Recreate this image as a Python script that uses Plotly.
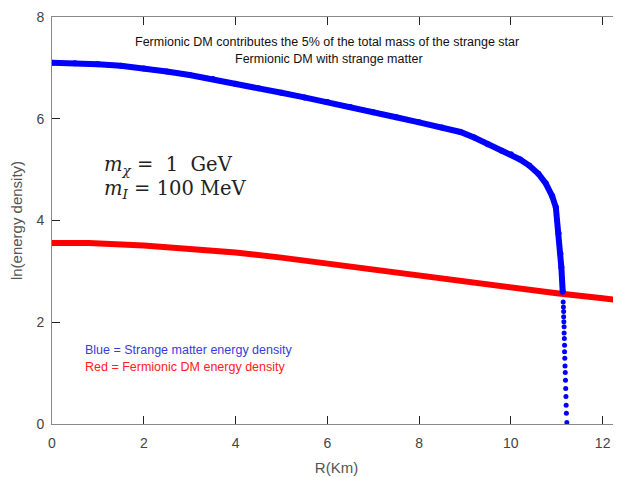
import plotly.graph_objects as go

# Strange matter (blue) - dense part
r_blue = [0.0, 0.5, 1.0, 1.5, 2.0, 2.5, 3.0, 3.5, 4.0, 4.5, 5.0, 5.5, 6.0, 6.5, 7.0, 7.5, 8.0,
          8.5, 8.9, 9.2, 9.5, 9.8, 10.0, 10.2, 10.4, 10.6, 10.76, 10.9, 10.98, 11.04, 11.08, 11.1, 11.13]
e_blue = [7.10, 7.09, 7.07, 7.04, 6.99, 6.93, 6.86, 6.78, 6.69, 6.60, 6.51, 6.42, 6.33, 6.23, 6.13, 6.03, 5.93,
          5.83, 5.74, 5.63, 5.50, 5.37, 5.30, 5.20, 5.08, 4.92, 4.73, 4.48, 4.26, 3.75, 3.35, 3.08, 2.60]
# Strange matter (blue) - sparse tail dots
r_tail = [11.14, 11.145, 11.15, 11.15, 11.155, 11.16, 11.16, 11.165, 11.17, 11.17, 11.175, 11.18,
          11.185, 11.19, 11.195, 11.2, 11.205, 11.21, 11.22]
e_tail = [2.40, 2.30, 2.21, 2.11, 2.01, 1.91, 1.79, 1.68, 1.55, 1.42, 1.29, 1.14,
          1.01, 0.86, 0.70, 0.54, 0.37, 0.21, 0.03]
# Fermionic DM (red)
r_red = [0.0, 0.8, 2.0, 3.0, 4.0, 5.0, 6.0, 7.0, 8.0, 9.0, 10.0, 11.0, 12.0, 12.4]
e_red = [3.56, 3.56, 3.51, 3.45, 3.37, 3.27, 3.15, 3.04, 2.92, 2.81, 2.69, 2.57, 2.47, 2.43]

x_ticks = [0, 2, 4, 6, 8, 10, 12]
y_ticks = [0, 2, 4, 6, 8]

fig = go.Figure()
fig.add_trace(go.Scatter(x=r_red, y=e_red, mode="lines",
                         line=dict(color="#ff0000", width=6), showlegend=False))
fig.add_trace(go.Scatter(x=r_blue, y=e_blue, mode="lines+markers",
                         line=dict(color="#0000ff", width=6),
                         marker=dict(color="#0000ff", size=6), showlegend=False))
fig.add_trace(go.Scatter(x=r_tail, y=e_tail, mode="markers",
                         marker=dict(color="#0000ff", size=5), showlegend=False))

axis_common = dict(showline=True, linecolor="#888888", linewidth=1, mirror="ticks",
                   ticks="inside", ticklen=8, tickcolor="#222222", tickwidth=1,
                   showgrid=False, zeroline=False, automargin=False,
                   tickfont=dict(family="Liberation Sans, Arial", size=14, color="#444444"))

# page body has an 8px margin, so the figure is 8px smaller and margins are offset
fig.update_layout(
    width=613, height=469,
    margin=dict(l=44, r=0, t=9, b=53),
    plot_bgcolor="white", paper_bgcolor="white",
    xaxis=dict(range=[0, 12.4], tickvals=x_ticks, ticklabelstandoff=6, **axis_common,
               title=dict(text="R(Km)", standoff=12,
                          font=dict(family="Liberation Sans, Arial", size=15, color="#555555"))),
    yaxis=dict(range=[0, 8], tickvals=y_ticks, ticklabelstandoff=4, **axis_common,
               title=dict(text="ln(energy density)", standoff=10,
                          font=dict(family="Liberation Sans, Arial", size=15, color="#555555"))),
)

txtfont = dict(family="Liberation Sans, Arial", size=12.5, color="#111111")
fig.add_annotation(x=5.99, y=7.5, xref="x", yref="y", showarrow=False,
                   text="Fermionic DM contributes the 5% of the total mass of the strange star", font=txtfont)
fig.add_annotation(x=6.03, y=7.17, xref="x", yref="y", showarrow=False,
                   text="Fermionic DM with strange matter", font=txtfont)
mathfont = dict(family="DejaVu Serif, Liberation Serif, serif", size=19.5, color="#222222")
fig.add_annotation(x=1.1, y=5.09, xref="x", yref="y", showarrow=False, xanchor="left",
                   text="<i>m</i><sub><i>χ</i></sub> =  1  GeV", font=mathfont)
fig.add_annotation(x=1.1, y=4.6, xref="x", yref="y", showarrow=False, xanchor="left",
                   text="<i>m</i><sub><i>I</i></sub> = 100 MeV", font=mathfont)
fig.add_annotation(x=0.68, y=1.45, xref="x", yref="y", showarrow=False, xanchor="left",
                   text="Blue = Strange matter energy density",
                   font=dict(family="Liberation Sans, Arial", size=12.5, color="#3a3ae0"))
fig.add_annotation(x=0.68, y=1.12, xref="x", yref="y", showarrow=False, xanchor="left",
                   text="Red = Fermionic DM energy density",
                   font=dict(family="Liberation Sans, Arial", size=12.5, color="#ff2020"))

fig.write_html("out.html")
